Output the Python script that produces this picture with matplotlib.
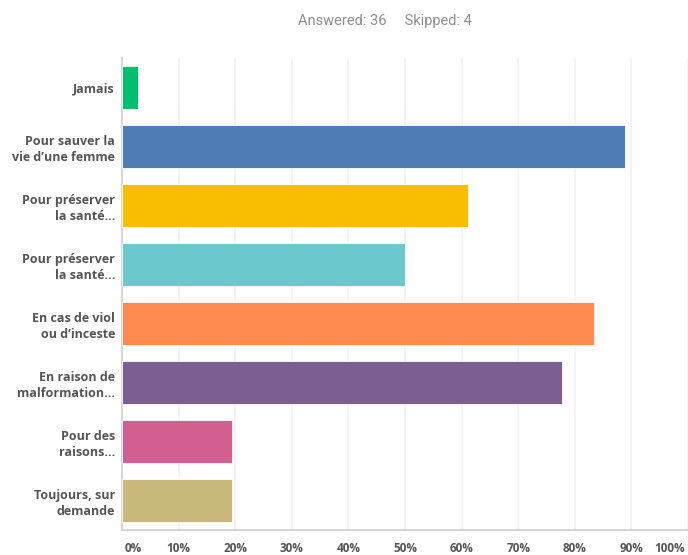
import matplotlib
matplotlib.use("Agg")
import matplotlib.pyplot as plt

categories = ["Jamais", "Pour sauver la\nvie d’une femme", "Pour préserver\nla santé...",
              "Pour préserver\nla santé...", "En cas de viol\nou d’inceste",
              "En raison de\nmalformation...", "Pour des\nraisons...", "Toujours, sur\ndemande"]
values = [2.78, 88.89, 61.11, 50.0, 83.33, 77.78, 19.44, 19.44]
colors = ["#00bf6f", "#507cb6", "#f9be00", "#6bc8cd", "#ff8b4f", "#7d5e90", "#d25f90", "#c7b879"]
xticks = [0, 10, 20, 30, 40, 50, 60, 70, 80, 90, 100]
xticklabels = ["0%", "10%", "20%", "30%", "40%", "50%", "60%", "70%", "80%", "90%", "100%"]
title_text = "Answered: 36     Skipped: 4"

fig = plt.figure(figsize=(6.88, 5.55), dpi=100)
ax = fig.add_axes([122/688, 1 - 530/555, 566/688, 472/555])

y = list(range(len(categories)))
ax.barh(y, values, height=0.72, color=colors, edgecolor="white", linewidth=0.6, zorder=3)
ax.set_ylim(len(categories) - 0.5, -0.5)
ax.set_xlim(0, 100)

ax.set_xticks(xticks)
ax.set_xticklabels([])
ax.tick_params(axis="x", length=0)
ax.grid(axis="x", color="#f2f2f2", linewidth=1.2, zorder=0)
ax.set_yticks(y)
ax.set_yticklabels(categories, fontsize=9, fontweight="bold", color="#555555",
                   family=["Open Sans", "DejaVu Sans"], linespacing=1.3)
ax.tick_params(axis="y", length=0, pad=5)

for s in ["top", "right"]:
    ax.spines[s].set_visible(False)
for s in ["left", "bottom"]:
    ax.spines[s].set_color("#d6d6d6")
    ax.spines[s].set_linewidth(1.5)

label_y = -(548 - 530) / 472
for v, lab in zip(xticks, xticklabels):
    ha = "center"
    xv = v
    if v == 0:
        ha = "left"
        xv = 0.5
    elif v == 100:
        ha = "right"
        xv = 99.5
    ax.text(xv, label_y, lab, transform=ax.get_xaxis_transform(), ha=ha, va="center",
            fontsize=8.5, fontweight="bold", color="#555555", family=["Open Sans", "DejaVu Sans"])

fig.text(385/688, 1 - 21/555, title_text, ha="center", va="center", fontsize=10.5,
         color="#8a8f94", family=["Liberation Sans Narrow", "Roboto", "DejaVu Sans"])

fig.savefig("out.png", dpi=100)
